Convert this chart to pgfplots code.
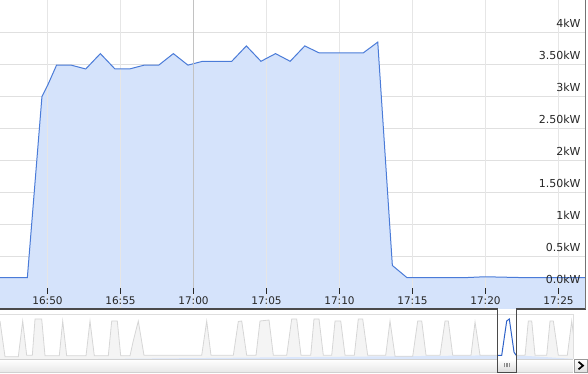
\documentclass[border=0pt]{standalone}
\usepackage{pgfplots}
\pgfplotsset{compat=1.18}
\usepackage{pgfplotstable}
\usepgfplotslibrary{fillbetween}
\usepackage{fontspec}
\setmainfont{DejaVu Sans}

\definecolor{linecol}{HTML}{4A7BD8}
\definecolor{areacol}{HTML}{D5E3FB}
\definecolor{gridv}{HTML}{E6E6E6}
\definecolor{gridh}{HTML}{E0E0E0}
\definecolor{gridmid}{HTML}{C2C2C2}
\definecolor{framecol}{HTML}{4A4A4A}
\definecolor{navline}{HTML}{D6D6D6}
\definecolor{navfill}{HTML}{F4F4F4}
\definecolor{navframe}{HTML}{DEDEDE}
\definecolor{navblue}{HTML}{2E62C9}
\definecolor{navbluefill}{HTML}{DAE6FB}

% power draw, t = minutes after 16:00, kw = kilowatts
\pgfplotstableread{
t kw
44.62 0.17
46.62 0.17
48.62 0.17
49.62 3.00
50.00 3.17
50.62 3.49
51.62 3.49
52.62 3.43
53.62 3.67
54.62 3.43
55.62 3.43
56.62 3.49
57.62 3.49
58.62 3.67
59.62 3.49
60.62 3.55
61.62 3.55
62.62 3.55
63.62 3.79
64.62 3.55
65.62 3.67
66.62 3.55
67.62 3.79
68.62 3.68
69.62 3.68
70.62 3.68
71.62 3.68
72.62 3.85
73.62 0.36
74.62 0.17
76.62 0.17
78.62 0.17
79.62 0.18
80.62 0.18
82.62 0.17
84.62 0.17
86.62 0.17
88.62 0.17
}\power

% overview of the longer history, m = minutes from the start of the range
\pgfplotstableread{
m kw
0.0 3.60
10.6 0.03
38.6 0.03
47.9 3.60
56.3 0.17
68.2 0.17
73.9 3.80
88.0 3.80
95.0 0.12
125.1 0.12
132.3 3.60
140.7 0.12
181.5 0.12
189.9 3.60
199.0 0.12
228.5 0.12
235.7 3.60
247.5 3.60
254.7 0.12
274.3 0.12
280.6 1.50
291.8 3.60
303.8 0.17
425.6 0.17
436.1 3.60
445.2 0.17
492.3 0.17
502.8 3.55
510.0 3.60
520.5 0.17
540.2 0.17
548.6 3.60
567.6 3.70
576.7 0.17
604.9 0.17
615.5 3.80
626.0 3.80
635.1 0.17
655.6 0.17
662.5 3.80
673.1 3.80
682.2 0.17
699.9 0.17
706.9 3.60
718.9 3.60
728.0 0.17
747.6 0.17
756.0 3.80
765.3 3.80
775.8 0.17
813.8 0.17
822.9 3.60
833.5 0.08
870.8 0.08
881.3 3.60
889.8 3.60
898.9 0.17
928.4 0.17
939.0 3.60
945.9 3.60
955.2 0.17
993.8 0.17
1002.3 3.50
1012.8 0.17
1058.6 0.17
1069.1 3.60
1074.6 3.80
1084.5 0.50
1088.8 0.17
1107.8 0.17
1114.7 3.60
1121.9 3.60
1128.9 0.17
1153.5 0.17
1160.5 3.60
1167.5 3.60
1178.0 0.17
1197.0 0.17
1206.3 3.60
1215.4 0.17
}\overview

% the part of the overview shown in the main chart
\pgfplotstableread{
m kw
1048.7 0.17
1058.6 0.17
1069.1 3.60
1074.6 3.80
1084.5 0.50
1088.8 0.17
}\selected

\pgfplotsset{
  mainframe/.style={
    at={(0pt,65pt)}, anchor=south west,
    scale only axis, width=585.7pt, height=309pt,
    xmin=46.7466, xmax=86.8630, ymin=-0.3203, ymax=4.5078,
    axis line style={draw=none},
    xtick={50,55,...,85},
    major tick length=0pt,
  },
}

\begin{document}
\begin{tikzpicture}

% time grid behind the filled area
\begin{axis}[
  mainframe,
  xticklabels={}, ytick=\empty,
  xmajorgrids, x grid style={gridv, line width=1pt},
]
\end{axis}

% main chart
\begin{axis}[
  mainframe,
  axis on top,
  xticklabels={16:50,16:55,17:00,17:05,17:10,17:15,17:20,17:25},
  xtick pos=bottom,
  xticklabel style={anchor=base, inner sep=0pt, yshift=4pt,
    font={\fontsize{10.5}{12}\selectfont}, text=black!85},
  ytick={0,0.5,1,1.5,2,2.5,3,3.5,4},
  yticklabels={0.0kW,0.5kW,1kW,1.50kW,2kW,2.50kW,3kW,3.50kW,4kW},
  yticklabel pos=right, ytick pos=right,
  ytick style={draw=none},
  yticklabel style={anchor=base east, inner sep=0pt, xshift=-5pt, yshift=5pt,
    font={\fontsize{11}{13}\selectfont}, text=black!85},
  xmajorgrids, ymajorgrids,
  x grid style={white, draw opacity=0.55, line width=1pt},
  y grid style={gridh, line width=1pt},
]
\addplot[name path=pw, draw=none, forget plot] table[x=t, y=kw] {\power};
\path[name path=floor] (axis cs:40,-0.5) -- (axis cs:95,-0.5);
\addplot[areacol] fill between[of=pw and floor];
\addplot[linecol, line width=1pt] table[x=t, y=kw] {\power};
\end{axis}

% the hour line at 17:00, ending above the time labels
\draw[gridmid, line width=1pt] (193.5pt,86pt) -- (193.5pt,374pt);

% short tick marks above the time labels
\foreach \tx in {47.5,120.5,193.5,266.5,339.5,412.5,485.5,558.5}
  \draw[black!85, line width=1pt] (\tx pt,80.4pt) -- (\tx pt,85.6pt);

% overview strip
\begin{axis}[
  at={(0pt,15pt)}, anchor=south west,
  scale only axis, width=573pt, height=45pt,
  xmin=0, xmax=1209, ymin=-0.2, ymax=4.3,
  hide axis,
]
\addplot[name path=ov, draw=none, forget plot] table[x=m, y=kw] {\overview};
\path[name path=nfloor] (axis cs:-20,-0.3) -- (axis cs:1250,-0.3);
\addplot[navfill] fill between[of=ov and nfloor];
\addplot[navline, line width=0.8pt] table[x=m, y=kw] {\overview};
\fill[white] (axis cs:1048.7,-0.2) rectangle (axis cs:1088.8,4.3);
\addplot[name path=sel, draw=none, forget plot] table[x=m, y=kw] {\selected};
\addplot[navbluefill] fill between[of=sel and nfloor];
\addplot[navblue, line width=1pt] table[x=m, y=kw] {\selected};
\end{axis}

% overview frame
\draw[navframe, line width=0.8pt] (0pt,59.7pt) -- (573pt,59.7pt) -- (573pt,14.7pt);

% scrollbar
\shade[top color=white, bottom color=black!9] (0pt,2pt) rectangle (573pt,14.6pt);
\draw[black!18, line width=0.8pt] (0pt,14.6pt) -- (573pt,14.6pt);
\draw[black!18, line width=0.8pt] (0pt,2pt) -- (573pt,2pt);
\shade[top color=white, bottom color=black!12] (574pt,2pt) rectangle (587.5pt,14.6pt);
\draw[black!40, line width=0.8pt] (574pt,2pt) rectangle (587.5pt,14.6pt);
\draw[line width=1.7pt] (578.5pt,12.2pt) -- (583pt,8.4pt) -- (578.5pt,4.7pt);

% scroll thumb
\shade[top color=white, bottom color=black!14] (497.5pt,2pt) rectangle (516pt,14.3pt);
\foreach \gx in {504.5,506,507.5,509}
  \draw[black!45, line width=0.6pt] (\gx pt,6.5pt) -- (\gx pt,10.5pt);

% chart border with the selection tab
\draw[framecol, line width=1.2pt] (0pt,65pt) -- (497.3pt,65pt) -- (497.3pt,1.6pt)
  -- (516.2pt,1.6pt) -- (516.2pt,65pt) -- (585.7pt,65pt);
\draw[black!55, line width=1pt] (585.7pt,65pt) -- (585.7pt,374pt);

\pgfresetboundingbox
\useasboundingbox (0pt,0pt) rectangle (588pt,374pt);
\end{tikzpicture}
\end{document}
